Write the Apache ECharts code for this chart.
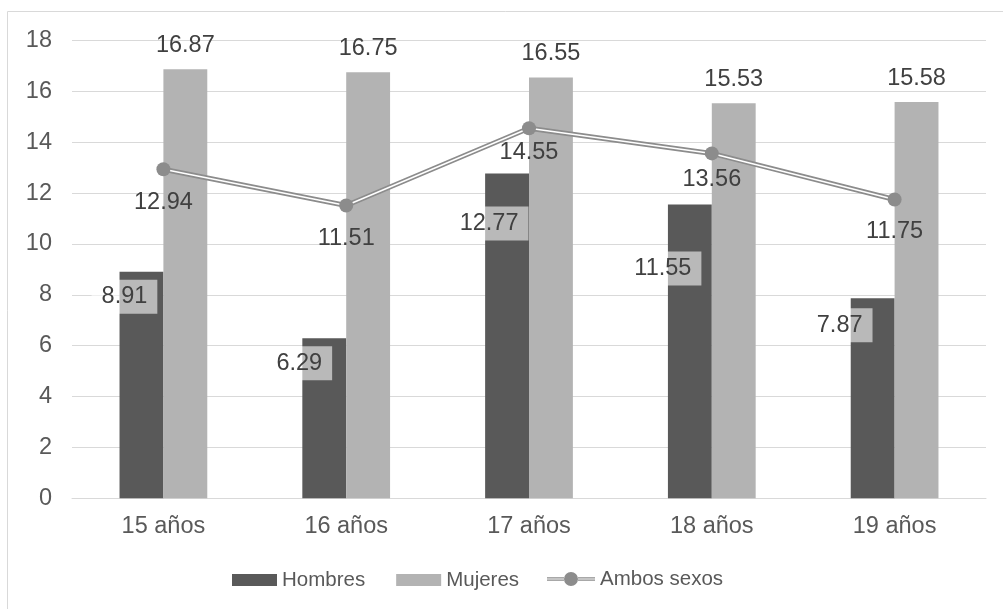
<!DOCTYPE html>
<html>
<head>
<meta charset="utf-8">
<script src="https://cdn.jsdelivr.net/npm/echarts@6/dist/echarts.min.js"></script>
<style>
  html, body { margin: 0; padding: 0; background: #ffffff; }
  #chart { width: 1003px; height: 609px; }
</style>
</head>
<body>
<div id="chart"></div>
<script>
// Edades y valores por sexo
const categories = ['15 años', '16 años', '17 años', '18 años', '19 años'];
const hombres = [8.91, 6.29, 12.77, 11.55, 7.87];
const mujeres = [16.87, 16.75, 16.55, 15.53, 15.58];
const ambos = [12.94, 11.51, 14.55, 13.56, 11.75];
const yTicks = { min: 0, max: 18, interval: 2 };

// Desplazamiento de cada etiqueta (en px) respecto a su barra / punto
const hombresLabelShift = [[-17, 25], [-25, 25], [-18, 50], [-27, 64], [-33, 27]];
const ambosLabelShift = [33, 33, 24, 26, 32];

const FONT = '"Liberation Sans", Arial, sans-serif';
const LINE_GRAY = '#8c8c8c';
const TEXT_SIZE = 23.5;
const LEGEND_SIZE = 20.5;

const chart = echarts.init(document.getElementById('chart'), null, { renderer: 'canvas' });

const hombresData = hombres.map((v, i) => ({
  value: v,
  label: {
    position: ['50%', 0],
    offset: hombresLabelShift[i],
  }
}));

const ambosLabelData = ambos.map((v, i) => ({
  value: v,
  label: { offset: [0, ambosLabelShift[i]] }
}));

const lineIcon = 'path://M0,5.2h17v1.4h-17Z M0,7.4h17v1.4h-17Z M31,5.2h17v1.4h-17Z M31,7.4h17v1.4h-17Z M17,7a7,7 0 1,0 14,0a7,7 0 1,0 -14,0Z';

chart.setOption({
  animation: false,
  textStyle: { fontFamily: FONT },
  graphic: [{
    type: 'rect',
    shape: { x: 7.5, y: 11.5, width: 1010, height: 620 },
    style: { fill: 'none', stroke: '#d9d9d9', lineWidth: 1 },
    silent: true,
    z: -10
  }],
  grid: { left: 72, right: 17, top: 40.5, height: 457.8, containLabel: false },
  legend: [{
    data: ['Hombres', 'Mujeres'],
    left: 227,
    top: 564.5,
    itemWidth: 45,
    itemHeight: 12,
    itemGap: 31,
    icon: 'rect',
    textStyle: { fontSize: LEGEND_SIZE, color: '#595959', fontFamily: FONT }
  }, {
    data: [{ name: 'Ambos sexos', icon: lineIcon }],
    left: 542,
    top: 563.5,
    itemWidth: 48,
    itemHeight: 14,
    textStyle: { fontSize: LEGEND_SIZE, color: '#595959', fontFamily: FONT }
  }],
  xAxis: {
    type: 'category',
    data: categories,
    axisLine: { lineStyle: { color: '#d9d9d9', width: 1 } },
    axisTick: { show: false },
    axisLabel: { fontSize: TEXT_SIZE, color: '#595959', margin: 16, fontFamily: FONT }
  },
  yAxis: {
    type: 'value',
    min: yTicks.min,
    max: yTicks.max,
    interval: yTicks.interval,
    axisLine: { show: false },
    axisTick: { show: false },
    splitLine: { lineStyle: { color: '#d9d9d9', width: 1 } },
    axisLabel: { fontSize: TEXT_SIZE, color: '#595959', margin: 20, fontFamily: FONT }
  },
  series: [{
    name: 'Hombres',
    type: 'bar',
    data: hombresData,
    barGap: '0%',
    barCategoryGap: '52%',
    itemStyle: { color: '#595959' },
    z: 2,
    label: {
      show: true,
      align: 'center',
      verticalAlign: 'middle',
      fontSize: TEXT_SIZE,
      color: '#404040',
      fontFamily: FONT,
      backgroundColor: 'rgba(255,255,255,0.58)',
      padding: [5, 10, 5, 10]
    }
  }, {
    name: 'Mujeres',
    type: 'bar',
    data: mujeres,
    itemStyle: { color: '#b3b3b3' },
    z: 2,
    label: {
      show: true,
      position: 'top',
      distance: 12,
      fontSize: TEXT_SIZE,
      color: '#404040',
      fontFamily: FONT
    }
  }, {
    // trazo exterior de la línea doble
    name: 'Ambos sexos (trazo)',
    type: 'line',
    data: ambos,
    symbol: 'none',
    silent: true,
    lineStyle: { color: LINE_GRAY, width: 5 },
    z: 3
  }, {
    // hueco blanco interior de la línea doble
    name: 'Ambos sexos (interior)',
    type: 'line',
    data: ambos,
    symbol: 'none',
    silent: true,
    lineStyle: { color: '#ffffff', width: 1.5 },
    z: 4
  }, {
    name: 'Ambos sexos',
    type: 'line',
    data: ambosLabelData,
    symbol: 'circle',
    symbolSize: 14,
    showSymbol: true,
    itemStyle: { color: LINE_GRAY },
    lineStyle: { opacity: 0, width: 0 },
    z: 5,
    label: {
      show: true,
      position: 'inside',
      fontSize: TEXT_SIZE,
      color: '#404040',
      fontFamily: FONT
    }
  }]
});
</script>
</body>
</html>
